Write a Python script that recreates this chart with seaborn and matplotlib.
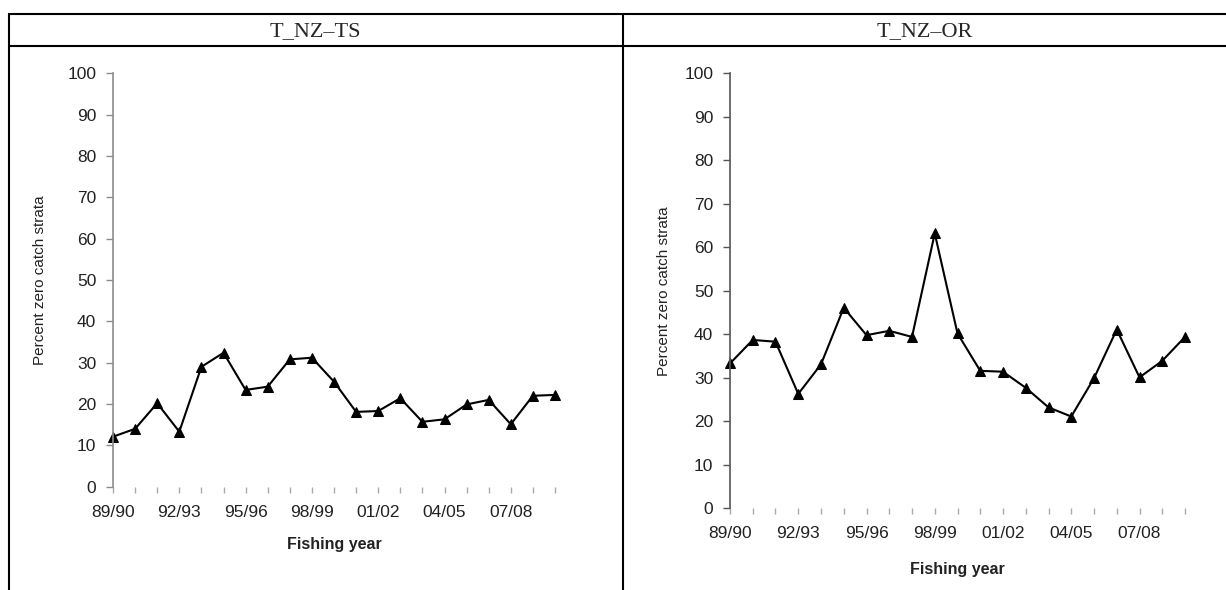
import matplotlib
matplotlib.use("Agg")
import matplotlib.pyplot as plt
import seaborn as sns
import pandas as pd
import numpy as np
from matplotlib.lines import Line2D

years = ["89/90", "90/91", "91/92", "92/93", "93/94", "94/95", "95/96", "96/97",
         "97/98", "98/99", "99/00", "00/01", "01/02", "02/03", "03/04", "04/05",
         "05/06", "06/07", "07/08", "08/09", "09/10"]
ts_values = [12.1, 14.0, 20.2, 13.3, 29.0, 32.4, 23.4, 24.2, 30.8, 31.2, 25.4,
             18.1, 18.3, 21.4, 15.7, 16.3, 19.9, 21.0, 15.1, 22.0, 22.2]
or_values = [33.3, 38.7, 38.3, 26.3, 33.1, 46.1, 39.8, 40.8, 39.4, 63.2, 40.2,
             31.6, 31.4, 27.7, 23.2, 21.1, 29.9, 41.1, 30.1, 33.9, 39.4]
panel_titles = ["T_NZ\u2013TS", "T_NZ\u2013OR"]
shown_labels = ["89/90", "92/93", "95/96", "98/99", "01/02", "04/05", "07/08"]
y_ticks = [0, 10, 20, 30, 40, 50, 60, 70, 80, 90, 100]
x_label = "Fishing year"
y_label = "Percent zero catch strata"

sns.set_style("white")
plt.rcParams['font.family'] = ['Liberation Sans', 'DejaVu Sans']

W, H = 1226, 590
fig = plt.figure(figsize=(W / 100, H / 100), dpi=100)

def fx(px):
    return px / W

def fy(py):
    return 1 - py / H

# axes positions in pixels: (left, top, right, bottom)
boxes = [(113, 73.3, 555, 486.7), (730, 73.3, 1185, 508.3)]
ylab_x = [47, 671]
xlab_y = [537, 561.7]
series = [ts_values, or_values]
axis_colors = ["#8c8c8c", "#555555"]

for i, (l, t, r, b) in enumerate(boxes):
    ax = fig.add_axes([fx(l), fy(b), fx(r - l), (b - t) / H])
    df = pd.DataFrame({"idx": np.arange(len(years)), "value": series[i]})
    sns.lineplot(data=df, x="idx", y="value", ax=ax, color="black",
                 marker="^", markersize=7.5, linewidth=1.5,
                 markeredgecolor="black", markerfacecolor="black", clip_on=False)
    ax.set_xlim(0, len(years) - 1)
    ax.set_ylim(0, 100)
    ax.set_yticks(y_ticks)
    ax.set_yticklabels([str(v) for v in y_ticks])
    ax.set_xticks(np.arange(len(years)))
    ax.set_xticklabels([y if y in shown_labels else "" for y in years])
    for s in ["top", "right", "bottom"]:
        ax.spines[s].set_visible(False)
    ax.spines["left"].set_color(axis_colors[i])
    ax.spines["left"].set_linewidth(1.2)
    ax.tick_params(axis="y", direction="out", length=5, width=1, color=axis_colors[i],
                   labelsize=12.5, labelcolor="#222222", pad=7, left=True)
    ax.tick_params(axis="x", direction="out", length=4, width=1, color="#aaaaaa",
                   labelsize=12.5, labelcolor="#222222", pad=9, bottom=True)
    ax.set_xlabel(x_label, fontsize=11.5, fontweight="bold", color="#222222")
    ax.set_ylabel(y_label, fontsize=11, color="#222222")
    ax.yaxis.set_label_coords((ylab_x[i] - l) / (r - l), 0.5)
    ax.xaxis.set_label_coords(0.5, (b - xlab_y[i]) / (b - t))
    ax.grid(False)

# table frame
lw = 1.5
top_y, head_y = 13.7, 45.7
left_x, mid_x = 8.5, 622.7
for yy in [top_y, head_y]:
    fig.add_artist(Line2D([fx(left_x), 1.0], [fy(yy), fy(yy)], color="black", lw=lw))
for xx in [left_x, mid_x]:
    fig.add_artist(Line2D([fx(xx), fx(xx)], [fy(top_y), 0.0], color="black", lw=lw))

centers = [(left_x + mid_x) / 2, (mid_x + 1226) / 2]
for c, title in zip(centers, panel_titles):
    fig.text(fx(c), fy((top_y + head_y) / 2 + 1.5), title, ha="center", va="center",
             fontsize=16, family=["Liberation Serif", "DejaVu Serif"])

fig.savefig("out.png", dpi=100)
